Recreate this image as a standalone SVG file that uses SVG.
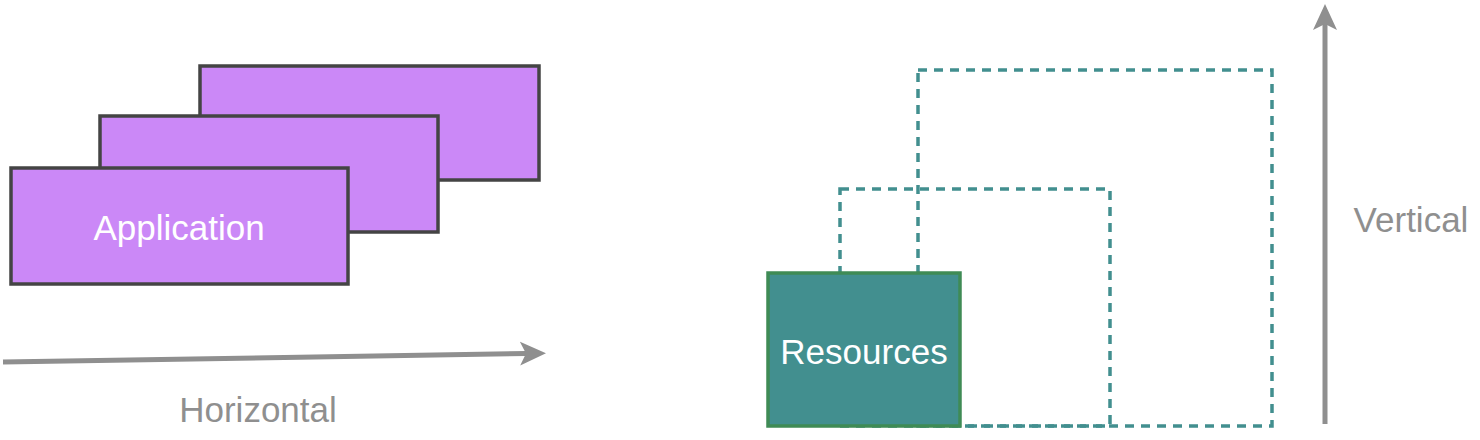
<svg xmlns="http://www.w3.org/2000/svg" width="1480" height="440" viewBox="0 0 1480 440">
<defs>
<style>
.app{fill:#cb88f7;stroke:#444444;stroke-width:3.5}
.res{fill:#428f8f;stroke:#3f8b55;stroke-width:3.5}
.dash{fill:none;stroke:#428f8f;stroke-width:3.5;stroke-dasharray:9 7}
.axis{fill:none;stroke:#8f8f8f;stroke-width:5}
.lbl{font-family:"Liberation Sans",Arial,sans-serif;font-size:35px;text-anchor:middle}
.w{fill:#ffffff}
.g{fill:#8f8f8f}
</style>
<marker id="ah" markerUnits="userSpaceOnUse" markerWidth="30" markerHeight="30" viewBox="0 0 30 30" refX="6" refY="15" orient="auto">
<path d="M0,3 L26,15 L0,27 L6,15 Z" fill="#8f8f8f"/>
</marker>
</defs>
<g id="connectors">
<line class="axis" x1="3" y1="362" x2="526" y2="353.5" marker-end="url(#ah)"/>
<line class="axis" x1="1325" y1="424" x2="1325" y2="24" marker-end="url(#ah)"/>
</g>
<g id="app3"><rect class="app" x="200" y="66" width="339" height="114"/></g>
<g id="app2"><rect class="app" x="100" y="116" width="338" height="116"/></g>
<g id="app1"><rect class="app" x="11" y="168" width="337" height="116"/><text class="lbl w" x="179" y="240">Application</text></g>
<g id="horizontal-label"><text class="lbl g" x="258" y="422">Horizontal</text></g>
<g id="scale2"><rect class="dash" x="918" y="70" width="354" height="356"/></g>
<g id="scale1"><rect class="dash" x="840" y="189" width="270" height="237"/></g>
<g id="resources"><rect class="res" x="768" y="273" width="192" height="153"/><text class="lbl w" x="864" y="364">Resources</text></g>
<g id="vertical-label"><text class="lbl g" x="1411" y="232">Vertical</text></g>
</svg>
